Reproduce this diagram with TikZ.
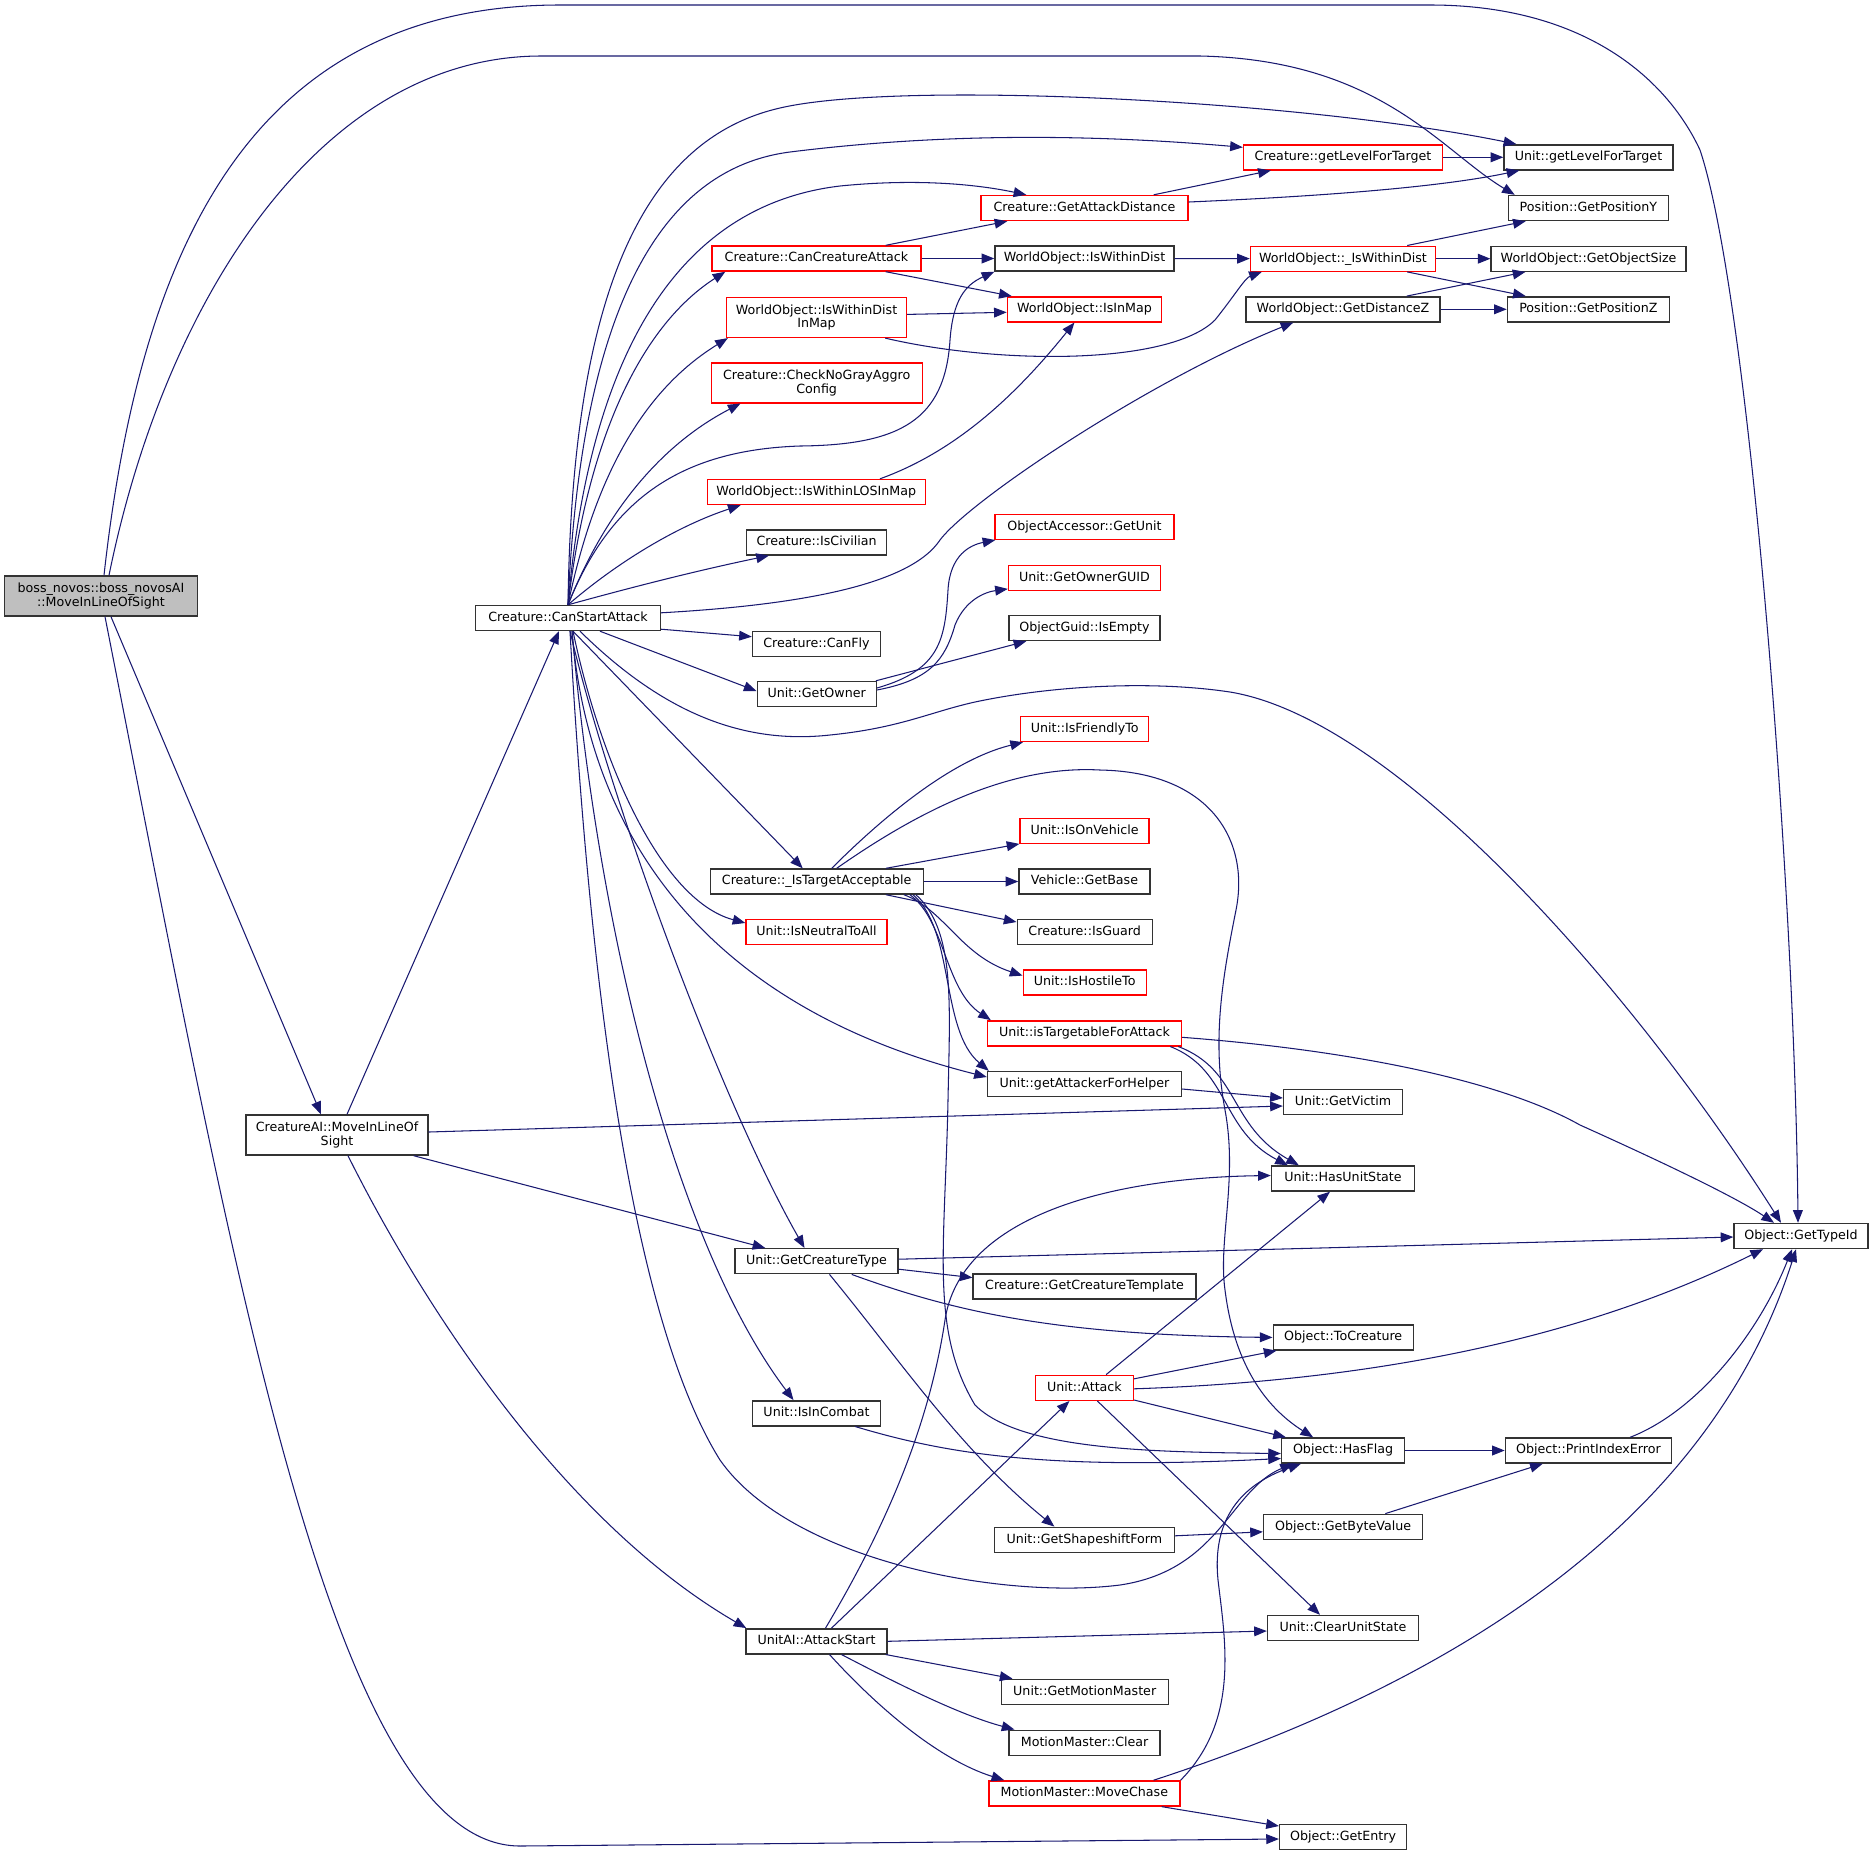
\documentclass[tikz,border=0pt]{standalone}
\usepackage{fontspec}
\setmainfont{DejaVu Sans}
\usetikzlibrary{arrows.meta,calc}
\definecolor{edgeblue}{HTML}{191970}
\definecolor{bossgray}{HTML}{BFBFBF}

\begin{document}
\begin{tikzpicture}[x=0.025cm,y=-0.025cm,
  fn/.style={draw=black!80,line width=1pt,fill=white,inner sep=0pt,minimum height=0.625cm,
    font=\fontsize{9pt}{10pt}\selectfont,text height=6.6pt,text depth=1.9pt},
  fn2/.style={fn,minimum height=1cm,align=center,text height=,text depth=,
    font=\fontsize{9pt}{9.6pt}\selectfont},
  wd/.style={minimum width=#1*0.025cm},
  call/.style={draw=edgeblue,line width=0.75pt,-{Triangle[length=9pt,width=7pt]}}]
\useasboundingbox (0,0) rectangle (1873,1856);

\node[fn2,wd=193,fill=bossgray] (boss) at (101,596) {boss\_novos::boss\_novosAI\\::MoveInLineOfSight};
\node[fn,wd=185] (csa) at (568,618) {Creature::CanStartAttack};
\node[fn2,wd=182] (cai) at (337,1135) {CreatureAI::MoveInLineOf\\Sight};

\node[fn,wd=209,draw=red] (cca) at (816.5,258.5) {Creature::CanCreatureAttack};
\node[fn2,wd=180,draw=red] (widm) at (816.5,317.4) {WorldObject::IsWithinDist\\InMap};
\node[fn2,wd=211,draw=red] (cngac) at (816.7,382.8) {Creature::CheckNoGrayAggro\\Config};
\node[fn,wd=218,draw=red] (los) at (816.3,492) {WorldObject::IsWithinLOSInMap};
\node[fn,wd=140] (civ) at (816.6,542.4) {Creature::IsCivilian};
\node[fn,wd=128] (fly) at (816.5,643.7) {Creature::CanFly};
\node[fn,wd=119] (gow) at (816.7,694) {Unit::GetOwner};
\node[fn,wd=213] (ta) at (816.7,881.5) {Creature::\_IsTargetAcceptable};
\node[fn,wd=141,draw=red] (inta) at (816.5,932) {Unit::IsNeutralToAll};
\node[fn,wd=163] (gct) at (816.5,1261.2) {Unit::GetCreatureType};
\node[fn,wd=128] (iic) at (816.5,1413.3) {Unit::IsInCombat};
\node[fn,wd=141] (as) at (816.5,1641.3) {UnitAI::AttackStart};

\node[fn,wd=207,draw=red] (gad) at (1084.5,208) {Creature::GetAttackDistance};
\node[fn,wd=179] (wid) at (1084.5,258.5) {WorldObject::IsWithinDist};
\node[fn,wd=154,draw=red] (iim) at (1084.4,309.3) {WorldObject::IsInMap};
\node[fn,wd=179,draw=red] (oagu) at (1084.5,526.8) {ObjectAccessor::GetUnit};
\node[fn,wd=152,draw=red] (gog) at (1084.5,577.7) {Unit::GetOwnerGUID};
\node[fn,wd=151] (gie) at (1084.5,628) {ObjectGuid::IsEmpty};
\node[fn,wd=128,draw=red] (ift) at (1084.7,729) {Unit::IsFriendlyTo};
\node[fn,wd=129,draw=red] (iov) at (1084.6,830.7) {Unit::IsOnVehicle};
\node[fn,wd=131] (vgb) at (1084.5,881.5) {Vehicle::GetBase};
\node[fn,wd=135] (ig) at (1084.7,932) {Creature::IsGuard};
\node[fn,wd=123,draw=red] (iht) at (1084.7,982.6) {Unit::IsHostileTo};
\node[fn,wd=194,draw=red] (itfa) at (1084.5,1033.3) {Unit::isTargetableForAttack};
\node[fn,wd=194] (gafh) at (1084.5,1084) {Unit::getAttackerForHelper};
\node[fn,wd=223] (gctpl) at (1084.6,1286.6) {Creature::GetCreatureTemplate};
\node[fn,wd=98,draw=red] (att) at (1084.4,1387.8) {Unit::Attack};
\node[fn,wd=180] (gsf) at (1084.4,1539.8) {Unit::GetShapeshiftForm};
\node[fn,wd=167] (gmm) at (1084.7,1691.8) {Unit::GetMotionMaster};
\node[fn,wd=151] (mmc) at (1084.6,1742.7) {MotionMaster::Clear};
\node[fn,wd=191,draw=red] (mch) at (1084.4,1793.4) {MotionMaster::MoveChase};

\node[fn,wd=199,draw=red] (cglt) at (1343,157.3) {Creature::getLevelForTarget};
\node[fn,wd=185,draw=red] (iwd) at (1343,258.7) {WorldObject::\_IsWithinDist};
\node[fn,wd=194] (gdz) at (1343,309.3) {WorldObject::GetDistanceZ};
\node[fn,wd=119] (gv) at (1343,1102) {Unit::GetVictim};
\node[fn,wd=143] (hus) at (1343,1178.5) {Unit::HasUnitState};
\node[fn,wd=140] (toc) at (1343.2,1337.4) {Object::ToCreature};
\node[fn,wd=123] (hf) at (1343.1,1450.5) {Object::HasFlag};
\node[fn,wd=159] (gbv) at (1343.1,1526.8) {Object::GetByteValue};
\node[fn,wd=151] (cus) at (1343,1628) {Unit::ClearUnitState};
\node[fn,wd=127] (ge) at (1343.1,1837) {Object::GetEntry};

\node[fn,wd=169] (uglt) at (1588.5,157.3) {Unit::getLevelForTarget};
\node[fn,wd=160] (gpy) at (1588.4,208) {Position::GetPositionY};
\node[fn,wd=195] (gos) at (1588.6,258.7) {WorldObject::GetObjectSize};
\node[fn,wd=162] (gpz) at (1588.4,309.3) {Position::GetPositionZ};
\node[fn,wd=166] (pie) at (1588.4,1450.5) {Object::PrintIndexError};
\node[fn,wd=134] (gti) at (1801,1236) {Object::GetTypeId};

\draw[call] ($(boss.north)+(3,0)$) .. controls (140,250) and (250,5) .. (560,5) -- (1430,5)
  .. controls (1580,5) and (1665,75) .. (1700,150) .. controls (1750,300) and (1795,900) .. ($(gti.north)+(-3,0)$);
\draw[call] ($(boss.north)+(8,0)$) .. controls (165,300) and (320,57) .. (540,56) -- (1200,56)
  .. controls (1380,60) and (1440,150) .. ($(gpy.north west)+(7,0)$);
\draw[call] ($(boss.south)+(10,0)$) -- ($(cai.north)+(-16,0)$);
\draw[call] ($(boss.south)+(4,0)$) .. controls (230,1250) and (330,1846) .. (520,1846) -- ($(ge.west)+(0,2)$);

\draw[call] ($(cai.north)+(10,0)$) -- ($(csa.south)+(-9,0)$);
\draw[call] ($(cai.east)+(0,-3)$) -- ($(gv.west)+(0,4)$);
\draw[call] ($(cai.south east)+(-15,0)$) -- ($(gct.north west)+(31,0)$);
\draw[call] ($(cai.south)+(11,0)$) .. controls (420,1300) and (560,1520) .. ($(as.north west)+(1,0)$);

\draw[call] (csa.north) .. controls (572,300) and (640,140) .. (780,108) .. controls (900,80) and (1300,100) .. ($(uglt.north west)+(13,0)$);
\draw[call] (csa.north) .. controls (580,330) and (650,170) .. (790,152) .. controls (950,132) and (1100,135) .. ($(cglt.west)+(0,-10)$);
\draw[call] (csa.north) .. controls (590,350) and (680,205) .. (840,186) .. controls (920,178) and (980,185) .. ($(gad.north west)+(46,0)$);
\draw[call] (csa.north) .. controls (590,420) and (650,320) .. ($(cca.south west)+(14,0)$);
\draw[call] (csa.north) .. controls (600,450) and (660,380) .. ($(widm.south west)+(2,0)$);
\draw[call] (csa.north) .. controls (610,500) and (670,440) .. ($(cngac.south west)+(30,0)$);
\draw[call] (csa.north) .. controls (610,500) and (680,450) .. (800,446) .. controls (900,445) and (945,420) .. (950,340)
  .. controls (953,300) and (965,285) .. (wid.south west);
\draw[call] (csa.north) .. controls (620,560) and (680,525) .. ($(los.south west)+(34,0)$);
\draw[call] (csa.north) .. controls (640,585) and (700,570) .. ($(civ.south west)+(23,0)$);
\draw[call] ($(csa.north east)+(0,8)$) .. controls (800,605) and (910,585) .. (940,540) .. controls (970,500) and (1150,380) .. ($(gdz.south west)+(48,0)$);
\draw[call] ($(csa.south east)+(0,-2)$) -- ($(fly.west)+(0,-7)$);
\draw[call] ($(csa.south)+(32,0)$) -- ($(gow.west)+(0,-3)$);
\draw[call] ($(csa.south)+(12,0)$) .. controls (660,710) and (740,745) .. (830,735) .. controls (900,728) and (930,712) .. (975,702)
  .. controls (1050,686) and (1150,680) .. (1230,692) .. controls (1400,720) and (1640,1000) .. ($(gti.north)+(-20,0)$);
\draw[call] ($(csa.south)+(5,0)$) -- ($(ta.north)+(-14,0)$);
\draw[call] ($(csa.south)+(5,0)$) .. controls (600,760) and (660,900) .. ($(inta.west)+(0,-9)$);
\draw[call] ($(csa.south)+(4,0)$) .. controls (590,850) and (720,1010) .. ($(gafh.west)+(0,-7)$);
\draw[call] ($(csa.south)+(2,0)$) .. controls (610,800) and (720,1100) .. ($(gct.north)+(-12,0)$);
\draw[call] ($(csa.south)+(4,0)$) .. controls (600,950) and (680,1250) .. ($(iic.north)+(-23,0)$);
\draw[call] ($(csa.south)+(2,0)$) .. controls (585,900) and (620,1300) .. (720,1460) .. controls (790,1560) and (1000,1600) .. (1120,1585)
  .. controls (1220,1570) and (1230,1490) .. ($(hf.south west)+(12,0)$);

\draw[call] ($(gow.east)+(0,-6)$) .. controls (940,670) and (945,640) .. (948,590) .. controls (950,555) and (970,545) .. ($(oagu.south west)+(1,0)$);
\draw[call] ($(gow.east)+(0,-4)$) .. controls (930,680) and (945,660) .. (955,625) .. controls (965,600) and (985,592) .. ($(gog.south west)+(0,-2)$);
\draw[call] ($(gow.north east)+(-1,0)$) -- ($(gie.south west)+(18,0)$);

\foreach \a/\b in {cglt/uglt,wid/iwd,iwd/gos,gdz/gpz,cca/wid,ta/vgb,hf/pie}
  \draw[call] (\a) -- (\b);

\draw[call] ($(cca.north east)+(-36,0)$) -- ($(gad.south west)+(27,0)$);
\draw[call] ($(cca.south east)+(-36,0)$) -- ($(iim.north west)+(5,0)$);
\draw[call] ($(widm.east)+(0,-3)$) -- ($(iim.west)+(0,3)$);
\draw[call] ($(widm.south east)+(-22,0)$) .. controls (1000,365) and (1170,365) .. (1215,320) .. controls (1235,295) and (1245,278) .. ($(iwd.south west)+(12,0)$);
\draw[call] ($(los.north east)+(-46,0)$) .. controls (960,450) and (1020,390) .. ($(iim.south)+(-10,0)$);
\draw[call] ($(gad.north east)+(-35,0)$) -- ($(cglt.south west)+(28,0)$);
\draw[call] ($(gad.east)+(0,-6)$) .. controls (1350,195) and (1450,185) .. ($(uglt.south west)+(16,0)$);
\draw[call] ($(iwd.north east)+(-29,0)$) -- ($(gpy.south west)+(18,0)$);
\draw[call] ($(iwd.south east)+(-29,0)$) -- ($(gpz.north west)+(19,0)$);
\draw[call] ($(gdz.north east)+(-34,0)$) -- ($(gos.south west)+(35,0)$);

\draw[call] ($(ta.north)+(15,0)$) .. controls (880,820) and (950,760) .. ($(ift.south west)+(3,0)$);
\draw[call] ($(ta.north)+(20,0)$) .. controls (920,810) and (1010,765) .. (1100,770) .. controls (1210,772) and (1250,840) .. (1236,910)
  .. controls (1222,980) and (1212,1040) .. (1225,1110) .. controls (1238,1180) and (1218,1240) .. (1225,1290)
  .. controls (1235,1370) and (1270,1410) .. ($(hf.north)+(-30,0)$);
\draw[call] ($(ta.north east)+(-38,0)$) -- (iov.south west);
\draw[call] ($(ta.south east)+(-38,0)$) -- ($(ig.west)+(0,-10)$);
\draw[call] ($(ta.south east)+(-20,0)$) .. controls (945,910) and (960,955) .. ($(iht.west)+(0,-7)$);
\draw[call] ($(ta.south east)+(-14,0)$) .. controls (945,920) and (945,990) .. ($(itfa.north west)+(4,0)$);
\draw[call] ($(ta.south east)+(-11,0)$) .. controls (955,930) and (940,1030) .. ($(gafh.north west)+(2,0)$);
\draw[call] ($(ta.south east)+(-8,0)$) .. controls (955,930) and (950,1000) .. (948,1100) .. controls (945,1250) and (930,1330) .. (975,1405)
  .. controls (1020,1450) and (1150,1452) .. ($(hf.west)+(0,3)$);
\draw[call] ($(iic.south east)+(-26,0)$) .. controls (950,1455) and (1050,1470) .. ($(hf.west)+(0,8)$);

\draw[call] ($(itfa.east)+(0,4)$) .. controls (1350,1050) and (1500,1080) .. (1580,1125) .. controls (1680,1170) and (1740,1200) .. ($(gti.north)+(-27,0)$);
\draw[call] ($(itfa.south east)+(-12,0)$) .. controls (1230,1070) and (1220,1130) .. ($(hus.north west)+(17,0)$);
\draw[call] ($(itfa.south east)+(-4,0)$) .. controls (1240,1070) and (1228,1125) .. ($(hus.north west)+(28,0)$);
\draw[call] ($(gafh.east)+(0,5)$) -- ($(gv.west)+(0,-4)$);

\draw[call] ($(gct.east)+(0,-2)$) -- ($(gti.west)+(0,1)$);
\draw[call] ($(gct.east)+(0,8)$) -- ($(gctpl.west)+(0,-9)$);
\draw[call] ($(gct.south east)+(-47,0)$) .. controls (950,1310) and (1050,1335) .. (toc.west);
\draw[call] ($(gct.south)+(13,0)$) .. controls (900,1360) and (960,1450) .. ($(gsf.north)+(-30,0)$);

\draw[call] ($(att.north east)+(-28,0)$) -- ($(hus.south)+(-13,0)$);
\draw[call] ($(att.east)+(0,-9)$) -- ($(toc.south west)+(4,0)$);
\draw[call] ($(att.east)+(0,1)$) .. controls (1400,1380) and (1600,1330) .. ($(gti.south)+(-38,0)$);
\draw[call] ($(att.south east)+(0,-1)$) -- ($(hf.north west)+(5,0)$);
\draw[call] ($(att.south)+(13,0)$) -- ($(cus.north)+(-23,0)$);

\draw[call] ($(as.north)+(15,0)$) -- ($(att.south)+(-15,0)$);
\draw[call] ($(as.north)+(9,0)$) .. controls (890,1520) and (930,1420) .. (945,1320) .. controls (960,1220) and (1100,1178) .. ($(hus.west)+(0,-3)$);
\draw[call] (as.east) -- ($(cus.west)+(0,3)$);
\draw[call] ($(as.south east)+(-2,0)$) -- ($(gmm.north west)+(12,0)$);
\draw[call] ($(as.south)+(25,0)$) .. controls (900,1685) and (960,1715) .. ($(mmc.north west)+(6,0)$);
\draw[call] ($(as.south)+(13,0)$) .. controls (880,1710) and (940,1760) .. ($(mch.north west)+(16,0)$);

\draw[call] ($(gsf.east)+(0,-4)$) -- ($(gbv.west)+(0,5)$);
\draw[call] ($(gbv.north east)+(-38,0)$) -- ($(pie.south west)+(38,0)$);
\draw[call] ($(pie.north east)+(-42,0)$) .. controls (1700,1410) and (1760,1330) .. ($(gti.south)+(-9,0)$);

\draw[call] ($(mch.north east)+(-27,0)$) .. controls (1400,1700) and (1700,1550) .. ($(gti.south)+(-5,0)$);
\draw[call] (mch.north east) .. controls (1240,1720) and (1225,1640) .. (1218,1580) .. controls (1212,1520) and (1240,1485) .. ($(hf.south west)+(20,0)$);
\draw[call] ($(mch.south east)+(-19,0)$) -- ($(ge.west)+(0,-11)$);

\end{tikzpicture}
\end{document}
